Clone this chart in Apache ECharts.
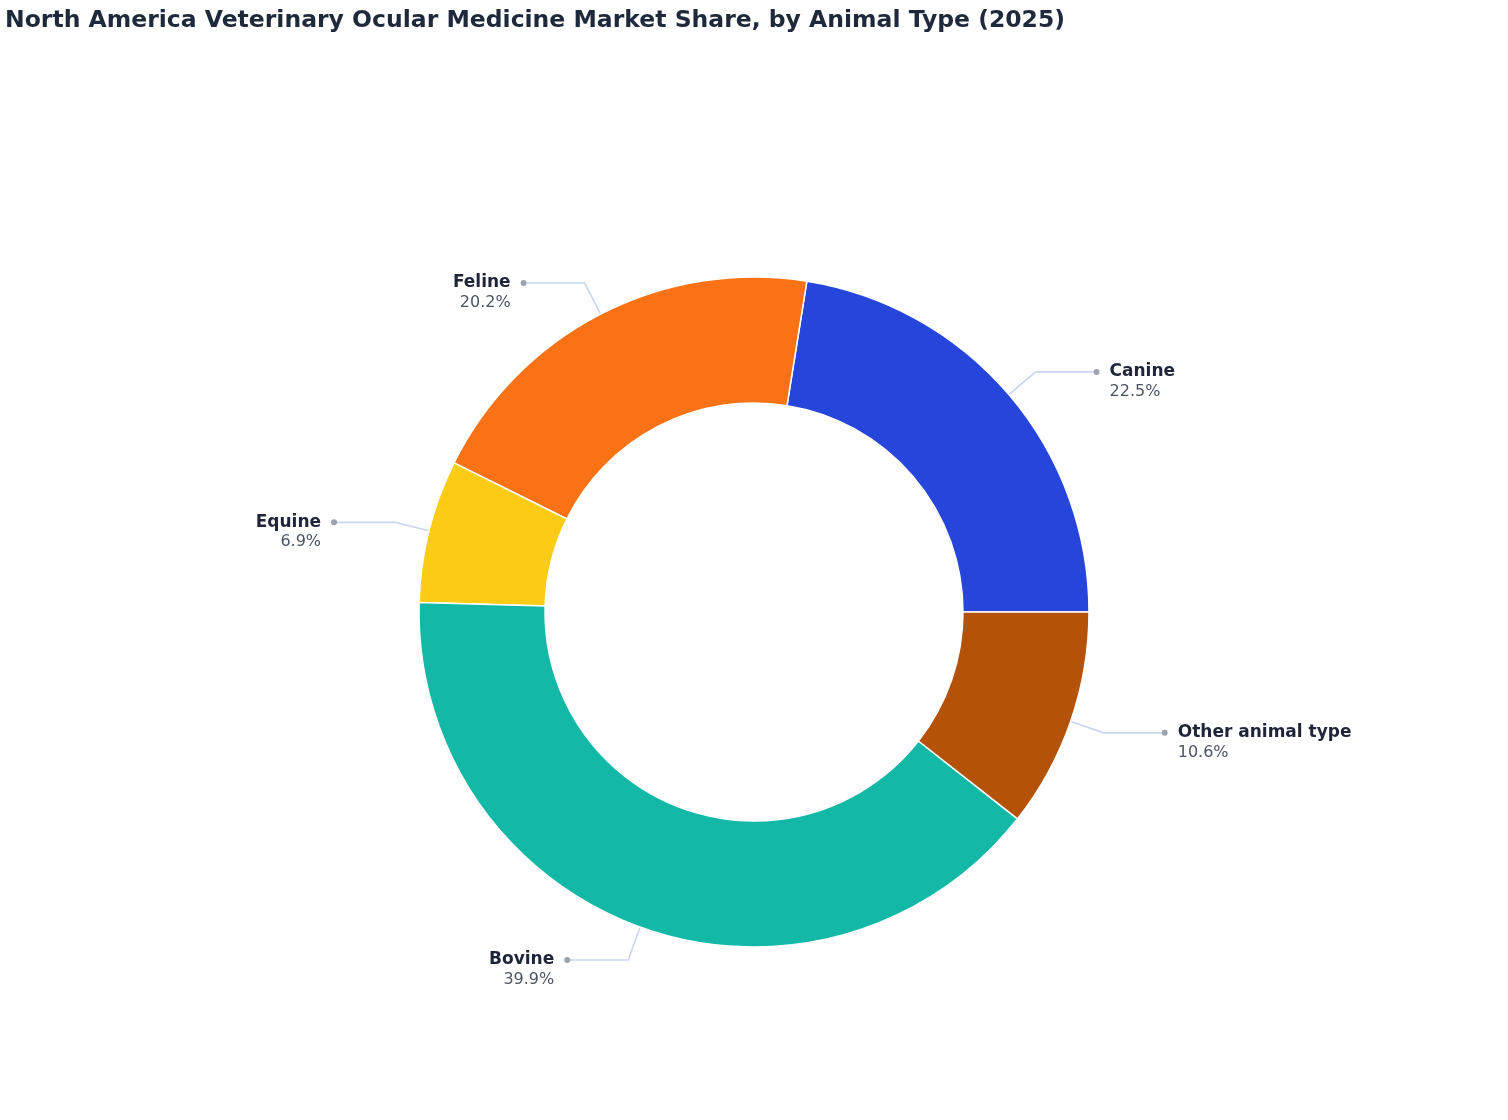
<!DOCTYPE html>
<html>
<head>
<meta charset="utf-8">
<script src="https://cdn.jsdelivr.net/npm/echarts@6/dist/echarts.min.js"></script>
<style>
html,body{margin:0;padding:0;background:#fff;}
#chart{width:1508px;height:1120px;}
</style>
</head>
<body>
<div id="chart"></div>
<script>
const categories = ['Canine', 'Feline', 'Equine', 'Bovine', 'Other animal type'];
const shares = [22.5, 20.2, 6.9, 39.9, 10.6];
const colors = ['#2645da', '#f97316', '#facc15', '#14b8a6', '#b4520a'];

const total = shares.reduce((a, b) => a + b, 0);
let cum = 0;
const data = categories.map((name, i) => {
  const mid = (cum + shares[i] / 2) / total * 360; // counter-clockwise from 3 o'clock
  cum += shares[i];
  const isLeft = Math.cos(mid * Math.PI / 180) < 0;
  const fmt = isLeft
    ? '{name|' + name + '}{g|}{dot|}\n{pct|' + shares[i].toFixed(1) + '%}{sp|}'
    : '{dot|}{g|}{name|' + name + '}\n{sp|}{pct|' + shares[i].toFixed(1) + '%}';
  return {
    name: name,
    value: shares[i],
    itemStyle: { color: colors[i] },
    label: { formatter: fmt }
  };
});

const FONT = '"DejaVu Sans", Inter, sans-serif';
const chart = echarts.init(document.getElementById('chart'));
chart.setOption({
  animation: false,
  title: {
    text: 'North America Veterinary Ocular Medicine Market Share, by Animal Type (2025)',
    left: 0,
    top: 4,
    textStyle: { fontFamily: FONT, fontSize: 23.5, fontWeight: 700, color: '#1e293b' }
  },
  series: [{
    type: 'pie',
    center: ['50%', 612],
    radius: [209, 335],
    startAngle: 0,
    clockwise: false,
    avoidLabelOverlap: false,
    itemStyle: { borderColor: '#ffffff', borderWidth: 1.5 },
    label: {
      show: true,
      position: 'outside',
      distanceToLabelLine: 0,
      padding: [20, 0, 0, 0],
      rich: {
        name: { fontFamily: FONT, fontSize: 17, fontWeight: 700, color: '#1e2538', lineHeight: 20 },
        pct: { fontFamily: FONT, fontSize: 16, fontWeight: 400, color: '#4b5563', lineHeight: 20 },
        dot: { width: 6, height: 6, borderRadius: 3, backgroundColor: '#9ca3af' },
        g: { width: 10 },
        sp: { width: 16 }
      }
    },
    labelLine: {
      show: true,
      length: 35,
      length2: 58,
      lineStyle: { color: '#c8d6ef', width: 1.6 }
    },
    data: data
  }]
});
</script>
</body>
</html>
